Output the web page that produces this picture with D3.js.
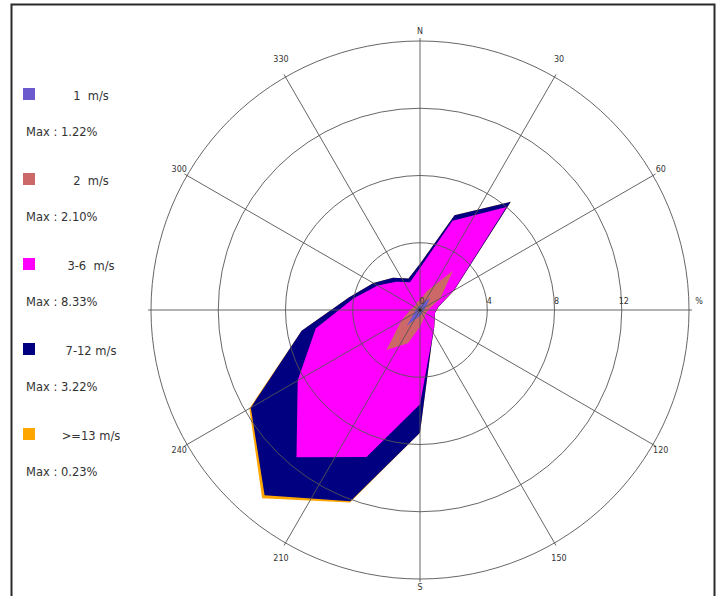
<!DOCTYPE html>
<html>
<head>
<meta charset="utf-8">
<script src="https://cdn.jsdelivr.net/npm/d3@7"></script>
<style>
  body { margin: 0; background: #fff; }
  svg { display: block; }
  text { font-family: "DejaVu Sans", Verdana, sans-serif; }
</style>
</head>
<body>
<svg id="chart" width="717" height="596"></svg>
<script>
// Wind directions (degrees, clockwise from north), one sector every 20 degrees
const directions = [0, 20, 40, 60, 80, 100, 120, 140, 160, 180, 200, 220, 240, 260, 280, 300, 320, 340];

// Frequency (%) of each speed class per direction
const speed1   = [0.25, 0.40, 0.95, 0.40, 0.25, 0.20, 0.20, 0.20, 0.25, 0.35, 0.50, 1.22, 0.40, 0.30, 0.20, 0.20, 0.20, 0.20];
const speed2   = [0.35, 0.80, 2.10, 1.00, 0.35, 0.25, 0.20, 0.25, 0.35, 0.65, 1.60, 1.88, 0.90, 0.40, 0.30, 0.20, 0.20, 0.30];
const speed3_6 = [1.90, 4.45, 4.95, 0.90, 0.50, 0.45, 0.60, 0.85, 1.40, 4.60, 7.20, 8.33, 7.10, 5.60, 3.50, 2.50, 1.80, 1.25];
const speed7_12= [0.25, 0.35, 0.40, 0.05, 0.02, 0.01, 0.01, 0.02, 0.05, 1.70, 2.80, 2.95, 3.22, 0.85, 0.30, 0.30, 0.30, 0.25];
const speed13  = [0.00, 0.00, 0.00, 0.00, 0.00, 0.00, 0.00, 0.00, 0.00, 0.00, 0.08, 0.23, 0.10, 0.00, 0.00, 0.00, 0.00, 0.00];

// Legend entries
const classLabels = ["1  m/s", "2  m/s", "3-6  m/s", "7-12 m/s", ">=13 m/s"];
const classMax    = ["Max : 1.22%", "Max : 2.10%", "Max : 8.33%", "Max : 3.22%", "Max : 0.23%"];
const classColors = ["#6a5acd", "#cd6868", "#ff00ff", "#000080", "#ffa500"];

// Grid
const ringTicks = [0, 4, 8, 12];
const ringMax = 16;
const spokeAngles = [0, 30, 60, 90, 120, 150, 180, 210, 240, 270, 300, 330];
const spokeLabels = ["N", "30", "60", "", "120", "150", "S", "210", "240", "", "300", "330"];

const keys = ["s1", "s2", "s3", "s4", "s5"];
const series = [speed1, speed2, speed3_6, speed7_12, speed13];
const table = directions.map((d, i) => {
  const row = { dir: d };
  keys.forEach((k, j) => row[k] = series[j][i]);
  return row;
});

const svg = d3.select("#chart");
const cx = 420, cy = 310, R = 269;

// outer frame
svg.append("rect")
  .attr("x", 11.5).attr("y", 4.5).attr("width", 703).attr("height", 640)
  .attr("fill", "none").attr("stroke", "#2a2a2a").attr("stroke-width", 2);

const g = svg.append("g").attr("transform", `translate(${cx},${cy})`);
const r = d3.scaleLinear().domain([0, ringMax]).range([0, R]);
const toRad = d => d * Math.PI / 180;

// cumulative stacking of the speed classes
const stacked = d3.stack().keys(keys)(table);

const radial = d3.lineRadial()
  .angle(d => toRad(d.data.dir))
  .radius(d => r(d[1]))
  .curve(d3.curveLinearClosed);

// outermost class first so inner classes sit on top
g.selectAll("path.rose")
  .data(stacked.slice().reverse())
  .join("path")
  .attr("class", "rose")
  .attr("d", s => radial(s))
  .attr("fill", s => classColors[s.index])
  .attr("stroke", "none");

// rings
const grid = g.append("g").attr("fill", "none").attr("stroke", "#555").attr("stroke-width", 0.9);
grid.selectAll("circle")
  .data(ringTicks.filter(t => t > 0).concat([ringMax]))
  .join("circle")
  .attr("r", d => r(d));

// spokes
grid.selectAll("line")
  .data(spokeAngles)
  .join("line")
  .attr("x1", 0).attr("y1", 0)
  .attr("x2", a => Math.sin(toRad(a)) * (R + 3))
  .attr("y2", a => -Math.cos(toRad(a)) * (R + 3));

g.append("circle").attr("r", 1.6).attr("fill", "#222");

// direction labels: compass letters sit just outside the ring,
// degree labels are pushed a little further out near the poles
const labelPos = (a, t) => {
  const s = Math.sin(toRad(a)), c = Math.cos(toRad(a));
  if (t.length === 1) return [0, c > 0 ? -(R + 10) : R + 8];
  const push = c > 0 ? -16 : 12;
  return [s * (R + 9), -c * (R + 9) + push * Math.abs(c * c * c)];
};
g.selectAll("text.dir")
  .data(spokeAngles.map((a, i) => ({ a, t: spokeLabels[i] })).filter(d => d.t))
  .join("text")
  .attr("class", "dir")
  .attr("x", d => labelPos(d.a, d.t)[0])
  .attr("y", d => labelPos(d.a, d.t)[1])
  .attr("dy", "0.35em")
  .attr("text-anchor", "middle")
  .attr("font-size", 8)
  .attr("fill", "#333")
  .text(d => d.t);

// ring value labels
g.selectAll("text.ring")
  .data(ringTicks)
  .join("text")
  .attr("class", "ring")
  .attr("x", d => r(d) + 2)
  .attr("y", -6)
  .attr("text-anchor", "middle")
  .attr("font-size", 8)
  .attr("fill", "#333")
  .text(d => d);

g.append("text")
  .attr("x", R + 10).attr("y", -6)
  .attr("text-anchor", "middle")
  .attr("font-size", 8)
  .attr("fill", "#333")
  .text("%");

// legend
const legend = svg.append("g");
const items = legend.selectAll("g")
  .data(classLabels.map((t, i) => ({ t, m: classMax[i], c: classColors[i], i })))
  .join("g")
  .attr("transform", d => `translate(0,${88 + d.i * 85})`);

items.append("rect")
  .attr("x", 23).attr("y", 0).attr("width", 12).attr("height", 12)
  .attr("fill", d => d.c);

items.append("text")
  .attr("x", 91).attr("y", 12)
  .attr("text-anchor", "middle")
  .attr("font-size", 11.5)
  .attr("fill", "#333")
  .style("white-space", "pre")
  .text(d => d.t);

items.append("text")
  .attr("x", 26).attr("y", 48)
  .attr("font-size", 11.5)
  .attr("fill", "#333")
  .text(d => d.m);
</script>
</body>
</html>
